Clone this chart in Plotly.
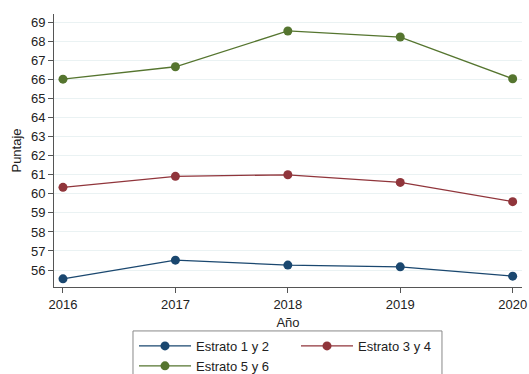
import plotly.graph_objects as go

years = [2016, 2017, 2018, 2019, 2020]
estrato_1_2 = [55.54, 56.52, 56.26, 56.17, 55.68]
estrato_3_4 = [60.34, 60.92, 61.00, 60.60, 59.59]
estrato_5_6 = [66.02, 66.67, 68.55, 68.23, 66.04]
series_names = ["Estrato 1 y 2", "Estrato 3 y 4", "Estrato 5 y 6"]
colors = ["#1a476f", "#90353b", "#55752f"]
y_ticks = list(range(56, 70))

fig = go.Figure()
for name, vals, c in zip(series_names, [estrato_1_2, estrato_3_4, estrato_5_6], colors):
    fig.add_trace(go.Scatter(
        x=years, y=vals, name=name, mode="lines+markers",
        line=dict(color=c, width=1.3),
        marker=dict(color=c, size=9),
        cliponaxis=False,
    ))

font_family = "Liberation Sans, Arial, sans-serif"
fig.update_layout(
    width=529, height=374,
    margin=dict(l=54, r=7, t=14, b=87, autoexpand=False),
    paper_bgcolor="white", plot_bgcolor="white",
    font=dict(family=font_family, size=13, color="#222222"),
    showlegend=True,
    legend=dict(
        orientation="h", xref="container", x=0.2533, xanchor="left",
        yref="container", y=0.115, yanchor="top",
        borderwidth=0, bgcolor="rgba(0,0,0,0)",
        itemwidth=52, entrywidth=95, entrywidthmode="pixels",
        font=dict(size=13, family=font_family, color="#222222"),
        tracegroupgap=0,
    ),
    shapes=[dict(
        type="rect", xref="paper", yref="paper",
        x0=0.1688, x1=0.829, y0=-0.161, y1=-0.36,
        line=dict(color="#888888", width=1), fillcolor="rgba(0,0,0,0)",
        layer="below",
    )],
    xaxis=dict(
        range=[2015.92, 2020.083], tickvals=years, ticktext=[str(y) for y in years],
        showgrid=False, zeroline=False, automargin=False,
        showline=True, linecolor="#555555", linewidth=1,
        ticks="outside", ticklen=5, tickcolor="#555555",
        title=dict(text="Año", standoff=7, font=dict(size=13)),
        tickfont=dict(size=13),
    ),
    yaxis=dict(
        range=[55.11, 69.44], tickvals=y_ticks,
        showgrid=True, gridcolor="#eaf2f3", gridwidth=1, zeroline=False,
        automargin=False,
        showline=True, linecolor="#555555", linewidth=1,
        ticks="outside", ticklen=5, tickcolor="#555555",
        title=dict(text="Puntaje", standoff=6, font=dict(size=13)),
        tickfont=dict(size=13),
    ),
)

fig.write_html(
    "out.html",
    config={"displayModeBar": False},
    post_script="document.body.style.margin='0';document.body.style.padding='0';",
)
